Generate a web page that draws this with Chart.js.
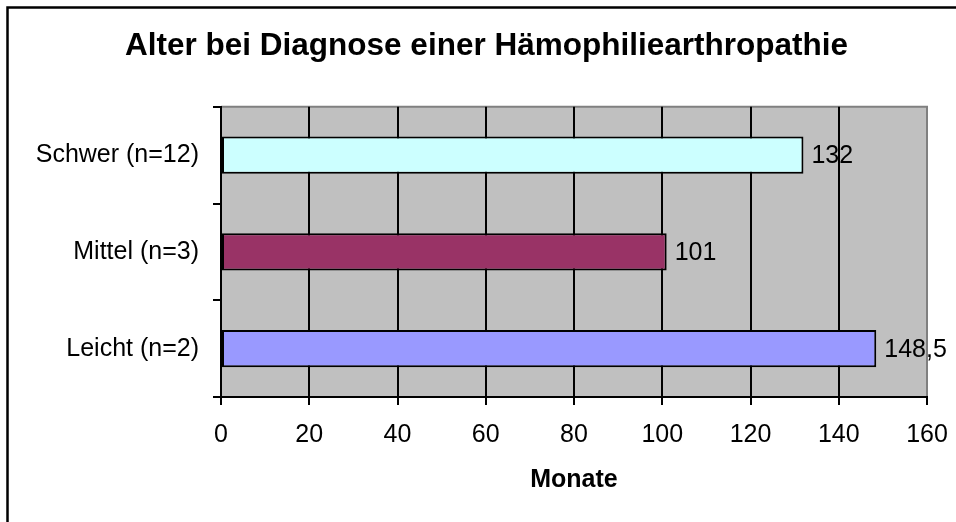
<!DOCTYPE html>
<html>
<head>
<meta charset="utf-8">
<script src="https://cdn.jsdelivr.net/npm/chart.js@4/dist/chart.umd.min.js"></script>
<style>
  html, body { margin: 0; padding: 0; background: #fff; }
  #wrap { width: 956px; height: 522px; position: relative; }
</style>
</head>
<body>
<div id="wrap"><canvas id="chart"></canvas></div>
<script>
var categories = ['Schwer (n=12)', 'Mittel (n=3)', 'Leicht (n=2)'];
var values = [132, 101, 148.5];
var barColors = ['#CCFFFF', '#993366', '#9999FF'];
var xTicks = [0, 20, 40, 60, 80, 100, 120, 140, 160];

var FONT = 'Arial, "Liberation Sans", sans-serif';

// grey plot area plus the cropped frame of the original picture
var backdrop = {
  id: 'backdrop',
  beforeDraw: function(chart) {
    var c = chart.ctx, a = chart.chartArea;
    c.save();
    c.fillStyle = '#fff';
    c.fillRect(0, 0, chart.width, chart.height);
    c.fillStyle = '#C0C0C0';
    c.fillRect(a.left, a.top, a.right - a.left, a.bottom - a.top);
    c.strokeStyle = '#808080';
    c.lineWidth = 2;
    c.beginPath();
    c.moveTo(a.left, a.top);
    c.lineTo(a.right, a.top);
    c.lineTo(a.right, a.bottom);
    c.stroke();
    c.strokeStyle = '#000';
    c.lineWidth = 2.5;
    c.beginPath();
    c.moveTo(7.5, chart.height);
    c.lineTo(7.5, 7.5);
    c.lineTo(chart.width, 7.5);
    c.stroke();
    c.restore();
  }
};

// value labels at the end of each bar, decimal comma like the original
var valueLabels = {
  id: 'valueLabels',
  afterDatasetsDraw: function(chart) {
    var c = chart.ctx;
    var meta = chart.getDatasetMeta(0);
    c.save();
    c.font = '25px ' + FONT;
    c.fillStyle = '#000';
    c.textAlign = 'left';
    c.textBaseline = 'middle';
    meta.data.forEach(function(bar, i) {
      var txt = String(values[i]).replace('.', ',');
      c.fillText(txt, bar.x + 8, bar.y + 1);
    });
    c.restore();
  }
};

new Chart(document.getElementById('chart'), {
  type: 'bar',
  data: {
    labels: categories,
    datasets: [{
      data: values,
      backgroundColor: barColors,
      borderColor: '#000',
      borderWidth: 2,
      borderSkipped: false,
      barPercentage: 0.385,
      categoryPercentage: 1
    }]
  },
  options: {
    indexAxis: 'y',
    responsive: true,
    maintainAspectRatio: false,
    animation: false,
    layout: { padding: { left: 28, right: 11, top: 0, bottom: 0 } },
    plugins: {
      legend: { display: false },
      tooltip: { enabled: false },
      title: {
        display: true,
        text: 'Alter bei Diagnose einer Hämophiliearthropathie',
        color: '#000',
        font: { family: FONT, size: 31.5, weight: 'bold' },
        padding: { top: 27, bottom: 42 }
      }
    },
    scales: {
      x: {
        min: 0,
        max: 160,
        afterBuildTicks: function(scale) {
          scale.ticks = xTicks.map(function(v) { return { value: v }; });
        },
        afterFit: function(scale) {
          scale.height = 125;
          scale.paddingLeft = 0;
          scale.paddingRight = 29;
        },
        grid: {
          color: function(ctx) { return ctx.tick && ctx.tick.value === 160 ? '#808080' : '#000'; },
          tickColor: '#000',
          lineWidth: 2,
          tickLength: 8
        },
        border: { display: true, color: '#000', width: 2 },
        ticks: {
          color: '#000',
          padding: 15,
          font: { family: FONT, size: 25 },
          maxRotation: 0
        },
        title: {
          display: true,
          text: 'Monate',
          color: '#000',
          font: { family: FONT, size: 25, weight: 'bold' },
          padding: { top: 0, bottom: 27 }
        }
      },
      y: {
        afterFit: function(scale) { scale.width = 193; },
        grid: {
          offset: true,
          drawOnChartArea: false,
          color: '#000',
          lineWidth: 2,
          tickLength: 8
        },
        border: { display: true, color: '#000', width: 2 },
        ticks: {
          color: '#000',
          padding: 14,
          font: { family: FONT, size: 25 }
        }
      }
    }
  },
  plugins: [backdrop, valueLabels]
});
</script>
</body>
</html>
